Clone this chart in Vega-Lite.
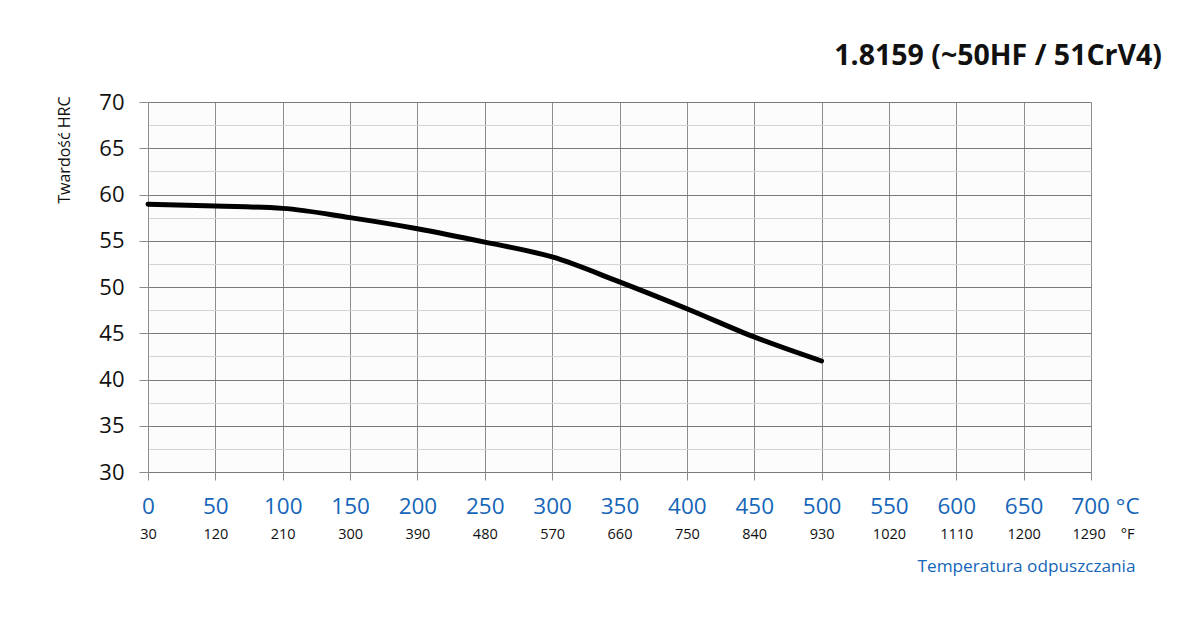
{
  "$schema": "https://vega.github.io/schema/vega-lite/v6.json",
  "autosize": "none",
  "width": 943,
  "height": 370,
  "padding": {"left": 148, "top": 102, "right": 109, "bottom": 162},
  "background": "#ffffff",
  "config": {
    "font": "Open Sans",
    "view": {"fill": "#fcfcfc", "stroke": null}
  },
  "title": {
    "text": "1.8159 (~50HF / 51CrV4)",
    "anchor": "end",
    "frame": "group",
    "font": "Open Sans",
    "fontSize": 28.5,
    "fontWeight": "bold",
    "color": "#111111",
    "dx": 71,
    "offset": 21
  },
  "data": {
    "values": [
      {"C": 0, "HRC": 58.95},
      {"C": 50, "HRC": 58.75},
      {"C": 100, "HRC": 58.5},
      {"C": 150, "HRC": 57.5},
      {"C": 200, "HRC": 56.3},
      {"C": 250, "HRC": 54.85},
      {"C": 300, "HRC": 53.25},
      {"C": 350, "HRC": 50.55},
      {"C": 400, "HRC": 47.65},
      {"C": 450, "HRC": 44.6},
      {"C": 500, "HRC": 42.0}
    ]
  },
  "resolve": {"scale": {"x": "independent"}, "axis": {"x": "independent"}},
  "layer": [
    {
      "mark": {"type": "line", "strokeOpacity": 0},
      "encoding": {
        "x": {
          "field": "C", "type": "quantitative",
          "scale": {"domain": [0, 700], "nice": false, "zero": false},
          "axis": {
            "orient": "bottom",
            "values": [0, 50, 100, 150, 200, 250, 300, 350, 400, 450, 500, 550, 600, 650, 700],
            "labelExpr": "['30','120','210','300','390','480','570','660','750','840','930','1020','1110','1200','1290\u00a0\u00a0\u00a0\u00a0°F'][datum.value / 50]",
            "labelOffset": {"condition": {"test": "datum.value == 700", "value": 12}, "value": 0},
            "labelFont": "Open Sans",
            "labelFontSize": 14.5,
            "labelColor": "#111111",
            "labelPadding": 55,
            "labelFlush": false,
            "labelOverlap": false,
            "ticks": false,
            "domain": false,
            "grid": false,
            "title": "Temperatura odpuszczania",
            "titleFont": "Open Sans",
            "titleFontSize": 17.2,
            "titleFontWeight": "normal",
            "titleColor": "#1565b8",
            "titleAnchor": "end",
            "titleAlign": "right",
            "titleX": 987,
            "titleY": 94,
            "titleBaseline": "middle"
          }
        },
        "y": {
          "field": "HRC", "type": "quantitative",
          "scale": {"domain": [30, 70], "nice": false, "zero": false},
          "axis": {
            "values": [30, 32.5, 35, 37.5, 40, 42.5, 45, 47.5, 50, 52.5, 55, 57.5, 60, 62.5, 65, 67.5, 70],
            "labelExpr": "datum.value % 5 == 0 ? datum.label : ''",
            "labelFont": "Open Sans",
            "labelFontSize": 22,
            "labelColor": "#111111",
            "labelPadding": 15,
            "tickSize": 9,
            "tickColor": "#8c8c8c",
            "tickOpacity": {"condition": {"test": "datum.value % 5 != 0", "value": 0}, "value": 1},
            "domainColor": "#8c8c8c",
            "grid": true,
            "gridColor": {"condition": {"test": "datum.value % 5 != 0", "value": "#d4d4d4"}, "value": "#7a7a7a"},
            "title": "Twardość HRC",
            "titleFont": "Open Sans",
            "titleFontSize": 16,
            "titleFontWeight": "normal",
            "titleColor": "#111111",
            "titleAngle": -90,
            "titleAlign": "right",
            "titleBaseline": "bottom",
            "titleX": -76,
            "titleY": -6
          }
        }
      }
    },
    {
      "mark": {"type": "line", "color": "#000000", "strokeWidth": 5, "interpolate": "monotone", "strokeCap": "round"},
      "encoding": {
        "x": {
          "field": "C", "type": "quantitative",
          "scale": {"domain": [0, 700], "nice": false, "zero": false},
          "axis": {
            "orient": "bottom",
            "values": [0, 50, 100, 150, 200, 250, 300, 350, 400, 450, 500, 550, 600, 650, 700],
            "labelExpr": "datum.value == 700 ? '700\u00a0°C' : datum.label",
            "labelOffset": {"condition": {"test": "datum.value == 700", "value": 14}, "value": 0},
            "labelFont": "Open Sans",
            "labelFontSize": 22.5,
            "labelColor": "#1565b8",
            "labelPadding": 15,
            "labelFlush": false,
            "labelOverlap": false,
            "tickSize": 8,
            "tickColor": "#8c8c8c",
            "domain": false,
            "grid": true,
            "gridColor": "#8c8c8c",
            "gridWidth": 1,
            "title": null
          }
        },
        "y": {
          "field": "HRC", "type": "quantitative",
          "scale": {"domain": [30, 70], "nice": false, "zero": false},
          "axis": {
            "values": [30, 32.5, 35, 37.5, 40, 42.5, 45, 47.5, 50, 52.5, 55, 57.5, 60, 62.5, 65, 67.5, 70],
            "labelExpr": "datum.value % 5 == 0 ? datum.label : ''",
            "labelFont": "Open Sans",
            "labelFontSize": 22,
            "labelColor": "#111111",
            "labelPadding": 15,
            "tickSize": 9,
            "tickColor": "#8c8c8c",
            "tickOpacity": {"condition": {"test": "datum.value % 5 != 0", "value": 0}, "value": 1},
            "domainColor": "#8c8c8c",
            "grid": true,
            "gridColor": {"condition": {"test": "datum.value % 5 != 0", "value": "#d4d4d4"}, "value": "#7a7a7a"},
            "title": "Twardość HRC",
            "titleFont": "Open Sans",
            "titleFontSize": 16,
            "titleFontWeight": "normal",
            "titleColor": "#111111",
            "titleAngle": -90,
            "titleAlign": "right",
            "titleBaseline": "bottom",
            "titleX": -76,
            "titleY": -6
          }
        }
      }
    }
  ]
}
